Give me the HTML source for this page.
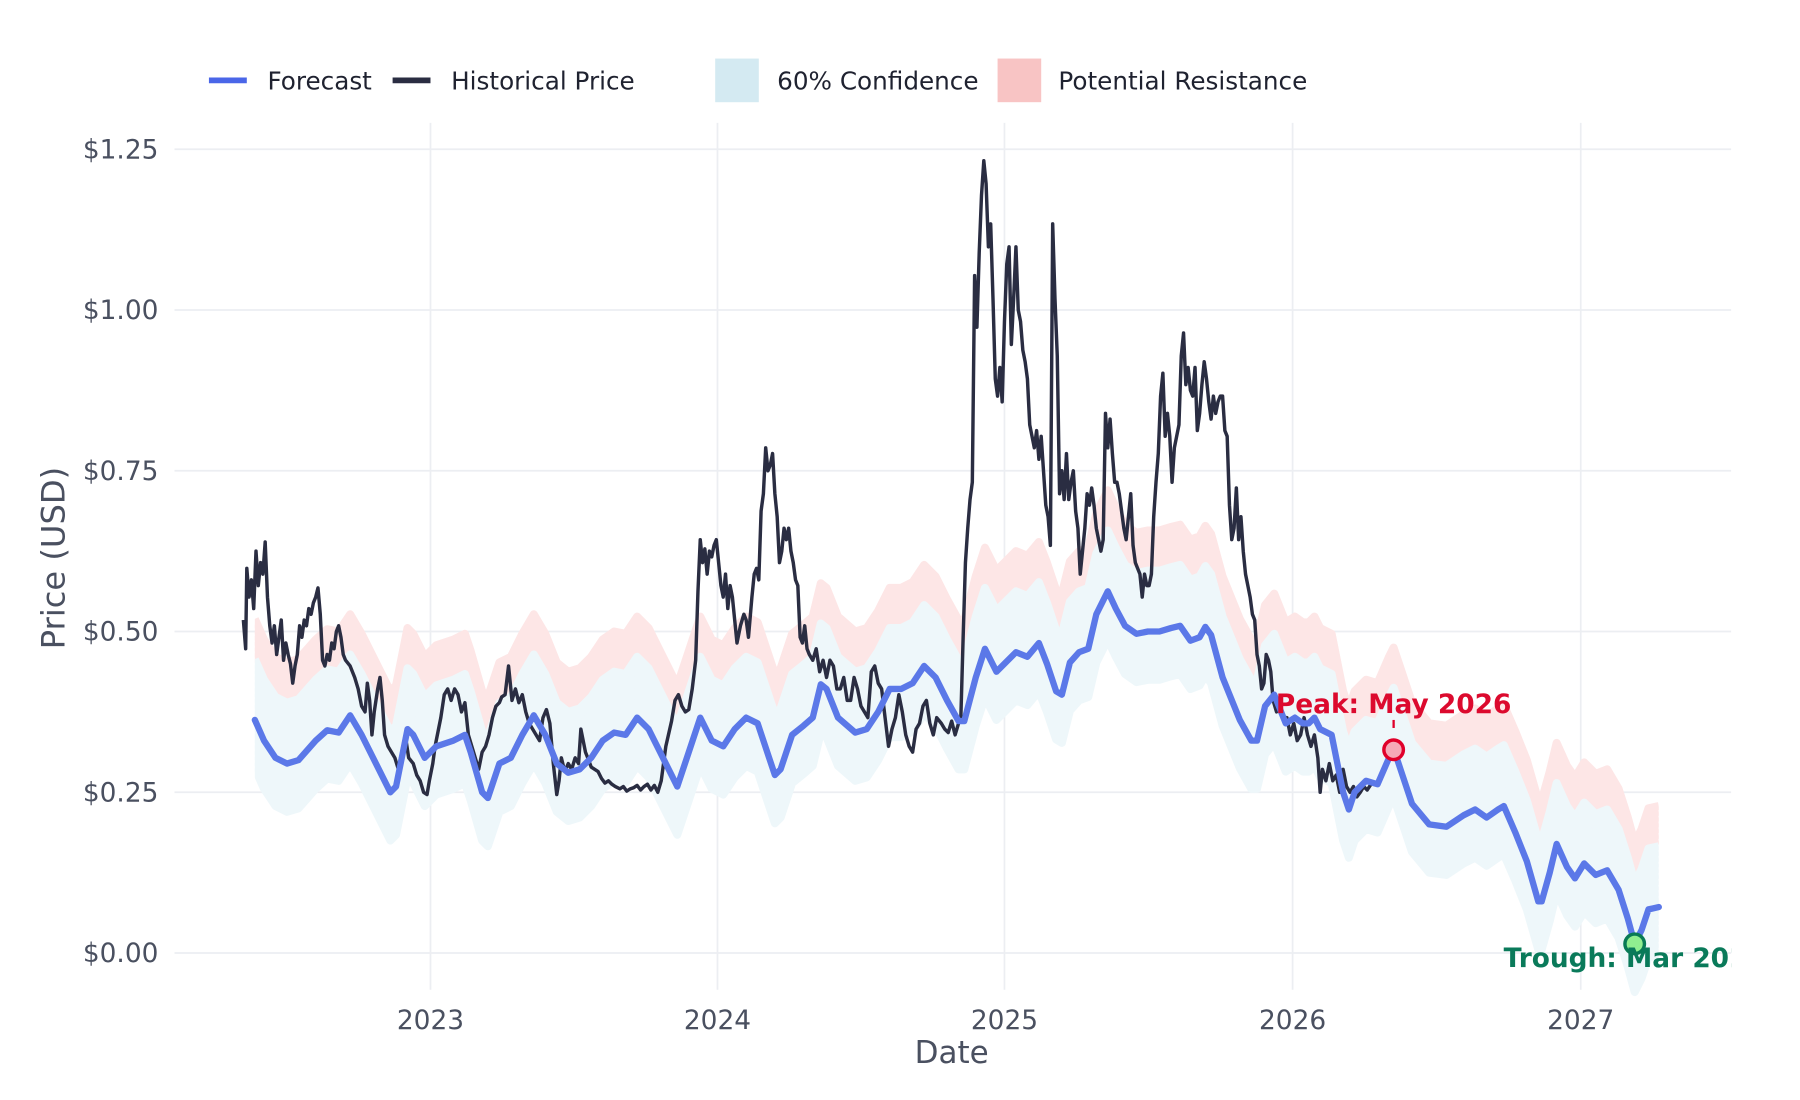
<!DOCTYPE html>
<html><head><meta charset="utf-8"><style>html,body{margin:0;padding:0;background:#fff}svg{display:block}text{font-family:"DejaVu Sans","Liberation Sans",sans-serif}</style></head>
<body>
<svg width="1800" height="1100" viewBox="0 0 1568 958" preserveAspectRatio="none" xmlns="http://www.w3.org/2000/svg">
<defs>
<polyline id="fc" fill="none" points="222,627 230,645 240,660 250,665 260,662 275,645 285,636 295,638 305,623 315,640 330,670 340,690 345,685 355,635 360,640 370,660 380,650 395,645 405,640 410,655 420,690 425,695 435,665 445,660 455,640 465,623 475,640 485,665 495,673 505,670 515,660 525,645 535,638 545,640 555,625 565,635 580,665 590,685 600,655 610,625 620,645 630,650 640,635 650,625 660,630 670,660 675,675 680,670 690,640 700,632 708,625 715,596 720,600 730,625 745,638 755,635 765,620 775,600 785,600 795,595 805,580 815,590 825,610 835,628 840,628 850,590 858,565 868,585 878,575 885,568 895,572 905,560 912,578 920,602 925,605 932,577 940,568 948,565 955,535 965,515 972,530 980,545 990,552 1000,550 1010,550 1020,547 1028,545 1037,558 1045,555 1050,546 1055,553 1065,590 1080,627 1090,645 1095,645 1102,615 1110,605 1120,630 1128,625 1135,630 1140,630 1145,625 1150,635 1160,640 1170,690 1175,705 1180,690 1190,680 1200,683 1210,660 1214,652 1220,670 1230,700 1245,718 1260,720 1275,710 1285,705 1295,712 1305,705 1310,702 1320,725 1330,750 1340,785 1343,785 1350,760 1356,735 1365,755 1372,765 1380,752 1390,762 1400,758 1410,775 1418,800 1424,822 1430,810 1436,792 1445,790"/>
<clipPath id="pa"><rect x="152" y="100" width="1356" height="800"/></clipPath>
<clipPath id="bx"><rect x="222" y="100" width="1223" height="800"/></clipPath>
</defs>
<g stroke="#eceef2" stroke-width="1.5">
<line x1="152" x2="1508" y1="830" y2="830"/><line x1="152" x2="1508" y1="690" y2="690"/><line x1="152" x2="1508" y1="550" y2="550"/><line x1="152" x2="1508" y1="410" y2="410"/><line x1="152" x2="1508" y1="270" y2="270"/><line x1="152" x2="1508" y1="130" y2="130"/>
<line x1="375" x2="375" y1="107" y2="862"/><line x1="625" x2="625" y1="107" y2="862"/><line x1="875" x2="875" y1="107" y2="862"/><line x1="1126" x2="1126" y1="107" y2="862"/><line x1="1377" x2="1377" y1="107" y2="862"/>
</g>
<g clip-path="url(#bx)" stroke-linejoin="round" stroke-width="7">
<g stroke="#fde6e6">
<use href="#fc" transform="translate(0,-88)"/><use href="#fc" transform="translate(0,-83)"/><use href="#fc" transform="translate(0,-78)"/><use href="#fc" transform="translate(0,-73)"/><use href="#fc" transform="translate(0,-68)"/><use href="#fc" transform="translate(0,-63)"/><use href="#fc" transform="translate(0,-58)"/>
</g>
<g stroke="#eef7fa">
<use href="#fc" transform="translate(0,-53)"/><use href="#fc" transform="translate(0,-48)"/><use href="#fc" transform="translate(0,-43)"/><use href="#fc" transform="translate(0,-38)"/><use href="#fc" transform="translate(0,-33)"/><use href="#fc" transform="translate(0,-28)"/><use href="#fc" transform="translate(0,-23)"/><use href="#fc" transform="translate(0,-18)"/><use href="#fc" transform="translate(0,-13)"/><use href="#fc" transform="translate(0,-8)"/><use href="#fc" transform="translate(0,-3)"/><use href="#fc" transform="translate(0,2)"/><use href="#fc" transform="translate(0,7)"/><use href="#fc" transform="translate(0,12)"/><use href="#fc" transform="translate(0,17)"/><use href="#fc" transform="translate(0,22)"/><use href="#fc" transform="translate(0,27)"/><use href="#fc" transform="translate(0,32)"/><use href="#fc" transform="translate(0,37)"/><use href="#fc" transform="translate(0,42)"/>
</g>
</g>
<polyline fill="none" stroke="#2a2d42" stroke-width="3" stroke-linejoin="round" points="212,540 214,565 215,495 217,520 219,505 221,530 223,480 225,510 227,490 229,500 231,472 233,520 235,545 237,560 239,545 241,570 243,555 245,540 247,575 249,560 251,570 253,578 255,595 257,580 259,570 261,545 263,555 265,540 267,545 269,530 271,535 273,525 275,520 277,512 279,535 281,575 283,580 285,570 287,575 289,560 291,565 293,550 295,545 297,555 299,570 301,575 305,580 309,590 312,600 315,615 318,620 320,595 322,610 324,640 326,620 329,600 331,590 333,610 335,640 338,650 341,655 344,660 347,670 350,655 353,640 356,660 360,665 363,675 366,680 369,690 372,692 374,680 377,665 379,650 381,640 384,625 387,605 390,600 393,610 396,600 399,605 402,620 405,612 408,640 411,650 414,660 417,670 420,655 423,650 426,640 429,625 432,615 435,612 437,607 440,605 443,580 446,610 449,600 452,612 455,605 458,620 461,630 464,635 467,640 470,645 473,625 476,618 479,630 482,665 485,692 487,680 489,660 492,672 495,665 498,670 501,660 504,665 506,635 508,645 510,655 512,660 515,668 518,670 521,672 524,678 527,682 530,680 533,683 536,685 540,687 543,685 546,689 549,687 552,686 555,684 558,688 561,685 564,683 567,688 570,684 573,690 576,680 580,650 585,628 588,610 591,605 594,615 597,620 600,618 603,600 606,575 608,515 610,470 612,490 614,478 616,500 618,480 620,485 622,475 624,470 626,490 628,510 630,520 632,500 634,530 636,510 638,520 640,540 642,560 645,545 648,535 650,540 652,555 655,520 657,500 659,495 661,505 663,445 665,430 667,390 669,410 671,405 673,395 675,430 677,450 679,490 681,480 683,460 685,470 687,460 689,480 691,490 693,505 695,510 697,555 699,560 701,545 703,565 705,570 708,575 711,565 714,585 717,575 720,590 723,575 726,580 729,600 732,600 735,590 738,610 741,610 744,590 747,600 750,615 753,620 756,625 759,585 762,580 765,595 768,600 771,625 774,650 777,635 780,625 783,605 786,620 789,640 792,650 795,655 798,635 801,630 804,615 807,610 810,630 813,640 816,625 820,630 823,635 826,638 829,628 832,640 835,630 837,625 839,555 841,490 843,460 845,435 847,420 849,240 851,285 853,220 855,170 857,140 859,160 861,215 863,195 865,260 867,330 869,345 871,320 873,350 875,280 877,230 879,215 881,300 883,260 885,215 887,270 889,280 891,305 893,315 895,330 897,370 899,380 901,390 903,375 905,400 907,380 909,410 911,440 913,450 915,475 917,195 919,260 921,310 923,430 925,410 927,435 929,395 931,435 933,420 935,410 937,445 939,460 941,500 943,480 945,460 947,430 949,440 951,425 953,440 955,460 957,470 959,480 961,470 963,360 965,390 967,365 969,395 971,420 973,420 975,430 977,445 979,460 981,470 983,450 985,430 987,475 989,490 991,495 993,500 995,520 997,500 999,510 1001,510 1003,500 1005,450 1007,420 1009,395 1011,345 1013,325 1015,380 1017,360 1019,380 1021,420 1023,390 1025,380 1027,370 1029,310 1031,290 1033,335 1035,320 1037,340 1039,345 1041,320 1043,375 1045,360 1047,335 1049,315 1051,330 1053,350 1055,365 1057,345 1059,360 1061,350 1063,345 1065,345 1067,375 1069,380 1071,440 1073,470 1075,460 1077,425 1079,470 1081,450 1083,480 1085,500 1087,510 1089,520 1091,535 1093,540 1095,570 1097,580 1099,600 1101,595 1103,570 1105,575 1107,585 1109,610 1112,620 1115,615 1118,625 1121,625 1124,640 1127,630 1130,645 1133,640 1136,625 1139,640 1142,650 1145,640 1148,660 1150,690 1152,670 1155,680 1158,665 1161,680 1164,675 1167,690 1170,670 1173,685 1176,690 1179,685 1182,694 1185,690 1188,685 1191,688 1195,682"/>
<use href="#fc" stroke="#5b78e8" stroke-width="5.5" stroke-linejoin="round" stroke-linecap="round"/>
<line x1="1214" x2="1214" y1="627" y2="634" stroke="#e0002a" stroke-width="2"/>
<circle cx="1214" cy="653" r="8.5" fill="#f6a9b8" stroke="#e0002a" stroke-width="3"/>
<text x="1214" y="621" text-anchor="middle" font-size="23" font-weight="bold" fill="#dc0a2e">Peak: May 2026</text>
<circle cx="1424" cy="822" r="8.5" fill="#90ee90" stroke="#087a55" stroke-width="3"/>
<g clip-path="url(#pa)"><text x="1424" y="842" text-anchor="middle" font-size="23" font-weight="bold" fill="#0a7a5a">Trough: Mar 2027</text></g>
<g font-size="23" fill="#4a5060" text-anchor="end">
<text x="138" y="838">$0.00</text><text x="138" y="698">$0.25</text><text x="138" y="558">$0.50</text><text x="138" y="418">$0.75</text><text x="138" y="278">$1.00</text><text x="138" y="138">$1.25</text>
</g>
<g font-size="23" fill="#4a5060" text-anchor="middle">
<text x="375" y="896">2023</text><text x="625" y="896">2024</text><text x="875" y="896">2025</text><text x="1126" y="896">2026</text><text x="1377" y="896">2027</text>
</g>
<text x="829" y="926" text-anchor="middle" font-size="27" fill="#4a5060">Date</text>
<text transform="translate(56,486) rotate(-90)" text-anchor="middle" font-size="28" fill="#4a5060">Price (USD)</text>
<line x1="182" x2="215" y1="70" y2="70" stroke="#4a66e8" stroke-width="5"/>
<text x="233" y="78" font-size="21.5" fill="#1f2230">Forecast</text>
<line x1="342" x2="375" y1="70" y2="70" stroke="#2a2d42" stroke-width="5"/>
<text x="393" y="78" font-size="21.5" fill="#1f2230">Historical Price</text>
<rect x="623" y="51" width="38" height="38" fill="#d4eaf2"/>
<text x="677" y="78" font-size="21.5" fill="#1f2230">60% Confidence</text>
<rect x="869" y="51" width="38" height="38" fill="#f8c4c4"/>
<text x="922" y="78" font-size="21.5" fill="#1f2230">Potential Resistance</text>
</svg>
</body></html>
